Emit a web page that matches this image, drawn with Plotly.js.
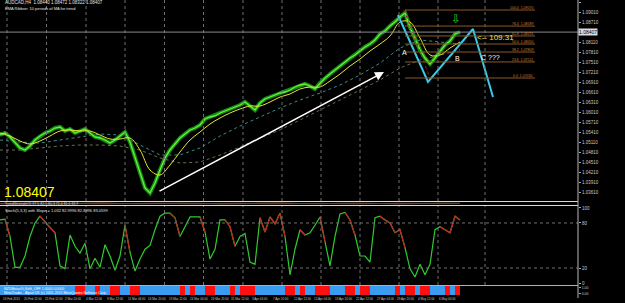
<!DOCTYPE html>
<html><head><meta charset="utf-8">
<script src="https://cdn.plot.ly/plotly-3.0.1.min.js"></script>
<style>html,body{margin:0;padding:0;background:#000;}#c{width:625px;height:303px;}</style>
</head><body><div id="c"></div>
<script>
// ---- data (sample index i = one step of the time axis) ----
const price = [1.0532,1.0538,1.0526,1.0511,1.0493,1.0487,1.0499,1.0517,1.0529,1.0538,1.0544,1.0553,1.0556,1.0544,1.0550,1.0538,1.0544,1.0550,1.0538,1.0526,1.0523,1.0517,1.0508,1.0517,1.0529,1.0541,1.0511,1.0466,1.0415,1.0373,1.0358,1.0388,1.0427,1.0463,1.0487,1.0505,1.0523,1.0535,1.0547,1.0553,1.0562,1.0580,1.0586,1.0589,1.0598,1.0604,1.0610,1.0616,1.0622,1.0631,1.0619,1.0607,1.0628,1.0640,1.0646,1.0652,1.0658,1.0661,1.0667,1.0676,1.0682,1.0685,1.0679,1.0670,1.0688,1.0703,1.0715,1.0727,1.0739,1.0751,1.0763,1.0772,1.0784,1.0796,1.0805,1.0817,1.0835,1.0844,1.0859,1.0871,1.0886,1.0898,1.0856,1.0823,1.0787,1.0763,1.0745,1.0763,1.0784,1.0802,1.0814,1.0835,1.0841];
const maFast = [1.0538,1.0529,1.0514,1.0505,1.0514,1.0529,1.0544,1.0547,1.0544,1.0544,1.0532,1.0520,1.0520,1.0523,1.0487,1.0427,1.0412,1.0442,1.0481,1.0517,1.0541,1.0565,1.0583,1.0598,1.0610,1.0619,1.0619,1.0631,1.0646,1.0655,1.0670,1.0676,1.0676,1.0694,1.0715,1.0739,1.0760,1.0784,1.0805,1.0829,1.0871,1.0871,1.0823,1.0772,1.0772,1.0793,1.0811];
const maMid = [1.0517,1.0511,1.0508,1.0517,1.0526,1.0535,1.0532,1.0502,1.0472,1.0472,1.0493,1.0529,1.0559,1.0586,1.0613,1.0637,1.0658,1.0682,1.0712,1.0748,1.0793,1.0817,1.0811,1.0805];
const maSlow = [1.0487,1.0487,1.0493,1.0499,1.0502,1.0502,1.0499,1.0487,1.0463,1.0448,1.0451,1.0472,1.0496,1.0523,1.0547,1.0577,1.0607,1.0637,1.0667,1.0697,1.0733,1.0757,1.0772,1.0787];
const stoch = [84,85,62,21,21,36,62,80,89,81,74,67,23,19,64,49,40,53,19,33,21,51,36,17,36,77,41,16,32,45,50,71,89,93,93,87,62,75,88,88,88,68,32,45,84,84,75,49,62,66,28,25,87,68,88,79,93,62,11,45,71,64,67,77,88,55,23,62,92,94,84,64,36,36,28,87,89,84,80,67,71,47,19,8,25,11,25,71,75,71,67,89,84];
const strengthA = [0.5,0.6,0.45,0.4,0.55,0.65,0.5,0.45,0.5,0.6,0.55,0.4,0.45,0.6,0.65,0.5,0.45,0.55,0.6,0.5,0.4,0.5,0.6,0.55];
const strengthB = [0.45,0.4,0.55,0.6,0.5,0.4,0.45,0.55,0.6,0.45,0.4,0.55,0.6,0.45,0.4,0.5,0.55,0.45,0.4,0.5,0.6,0.55,0.45,0.5];
const trendState = "BBBBBBBBBBBBBBBRRBBRBBRRBBRRBBBBBBBBRBRBBRRBBBRBRRRBBBBBBRRBRBBRRRBBBRRBRRBBBBBRBRRBRRBBBRBR".split('');
const lastPrice = 1.08407;
const xLabels = ["16 Feb 2015","20 Feb 12:00","25 Feb 12:00","2 Mar 20:00","4 Mar 12:00","9 Mar 12:00","11 Mar 04:00","16 Mar 20:00","19 Mar 12:00","24 Mar 04:00","26 Mar 20:00","31 Mar 12:00","3 Apr 04:00","7 Apr 20:00","12 Apr 12:00","15 Apr 04:00","19 Apr 20:00","22 Apr 12:00","27 Apr 04:00","29 Apr 20:00","4 May 12:00","6 May 04:00"];
const priceTicks = [1.0361,1.0391,1.0421,1.0451,1.0481,1.0511,1.0541,1.0571,1.0601,1.0631,1.0661,1.0691,1.0721,1.0751,1.0781,1.0811,1.0841,1.0871,1.0901,1.0931];
const stochTicks = [0,20,80,100];
const oscLevels = [20,80];
const gridX = [1.4,9.3,17.2,25,32.9,40.7,48.6,56.4,64.2,72,79.8,87.6,97];
// user drawings on the chart
const waveX = [79.6,85.6,94.6,98.6];
const waveY = [1.0892,1.0691,1.0850,1.0646];
const trendX = [31.6,76.8];
const trendY = [1.0361,1.0721];
const fibLevels = [100,76.4,61.8,50,38.2,23.6,0];
const fibHigh = 1.0907, fibLow = 1.0703;
const fibX = [81,107];

const idx = price.map((_,i)=>i);
const idx2 = maFast.map((_,i)=>i*2);
const idx4 = maMid.map((_,i)=>i*4);
const red = stoch.map(()=>null);
for(let i=1;i<stoch.length;i++){ if(stoch[i]<stoch[i-1] && stoch[i-1]>=70){ red[i-1]=stoch[i-1]; red[i]=stoch[i]; } }

const traces = [
 {x:idx4,y:maSlow,type:'scatter',mode:'lines',line:{color:'#6e6e50',width:1,dash:'dot'},yaxis:'y'},
 {x:idx4,y:maMid,type:'scatter',mode:'lines',line:{color:'#3c8c8c',width:1,dash:'dot'},yaxis:'y'},
 {x:idx,y:price,type:'scatter',mode:'lines',line:{color:'#168a16',width:4},yaxis:'y'},
 {x:idx,y:price,type:'scatter',mode:'lines',line:{color:'#66f23a',width:1.3},yaxis:'y'},
 {x:idx2,y:maFast,type:'scatter',mode:'lines',line:{color:'#e8e830',width:1,shape:'spline'},yaxis:'y'},
 {x:waveX,y:waveY,type:'scatter',mode:'lines',line:{color:'#3cc8e8',width:2},yaxis:'y'},
 {x:idx4,y:strengthA,type:'scatter',mode:'lines',line:{color:'#8c6a2a',width:1,shape:'spline'},yaxis:'y2'},
 {x:idx4,y:strengthB,type:'scatter',mode:'lines',line:{color:'#8c2a2a',width:1,shape:'spline'},yaxis:'y2'},
 {x:idx,y:stoch,type:'scatter',mode:'lines',line:{color:'#2ecc2e',width:1.2},yaxis:'y3'},
 {x:idx,y:red,type:'scatter',mode:'lines',line:{color:'#c82020',width:1.2},connectgaps:false,yaxis:'y3'},
 {x:trendState.map((_,i)=>i+0.5),y:trendState.map(()=>1),type:'bar',width:1,
  marker:{color:trendState.map(s=>s==='R'?'#ff1010':'#3a9cf0'),line:{width:0}},yaxis:'y4'}
];

const H = 295;
const P = px => 1 - px/H;
const shapes = [];
gridX.forEach(g=>{
  shapes.push({type:'line',xref:'x',yref:'paper',x0:g,x1:g,y0:P(201),y1:1,line:{color:'#707070',width:1,dash:'dot'}});
  shapes.push({type:'line',xref:'x',yref:'paper',x0:g,x1:g,y0:P(285),y1:P(206),line:{color:'#707070',width:1,dash:'dot'}});
});
oscLevels.forEach(l=>shapes.push({type:'line',xref:'paper',yref:'y3',x0:0,x1:1,y0:l,y1:l,line:{color:'#707070',width:1,dash:'dot'}}));
[201.5,205.5].forEach(p=>shapes.push({type:'line',xref:'paper',yref:'paper',x0:0,x1:1,y0:P(p),y1:P(p),line:{color:'#d8d8d8',width:1}}));
shapes.push({type:'line',xref:'paper',yref:'paper',x0:0,x1:1,y0:P(285.5),y1:P(285.5),line:{color:'#b0b0b0',width:1}});
shapes.push({type:'line',xref:'paper',yref:'y',x0:0,x1:1,y0:lastPrice,y1:lastPrice,line:{color:'#8a8a8a',width:1}});
shapes.push({type:'line',xref:'paper',yref:'paper',x0:1,x1:1,y0:P(298),y1:1,line:{color:'#b8b8b8',width:1}});
fibLevels.forEach(l=>{
  const v = fibLow+(fibHigh-fibLow)*l/100;
  shapes.push({type:'line',xref:'x',yref:'y',x0:fibX[0],x1:fibX[1],y0:v,y1:v,line:{color:'#8a5a2a',width:1}});
});
shapes.push({type:'line',xref:'x',yref:'y',x0:80.8,x1:86,y0:fibHigh,y1:fibLow,line:{color:'#a02020',width:1,dash:'dot'}});

const annotations = [
 {xref:'x',yref:'y',axref:'x',ayref:'y',x:trendX[1],y:trendY[1],ax:trendX[0],ay:trendY[0],showarrow:true,arrowhead:2,arrowsize:1.2,arrowwidth:1.5,arrowcolor:'#ffffff',text:''},
 {xref:'x',yref:'y',x:80.8,y:1.0781,text:'A',showarrow:false,font:{color:'#ffffff',size:7}},
 {xref:'x',yref:'y',x:91.4,y:1.0763,text:'B',showarrow:false,font:{color:'#ffffff',size:7}},
 {xref:'x',yref:'y',x:98,y:1.0766,text:'C ???',showarrow:false,font:{color:'#ffffff',size:7}},
 {xref:'x',yref:'y',x:95,y:1.0826,xanchor:'left',text:'&lt;-- 109.31',showarrow:false,font:{color:'#e6e64c',size:8}},
 {xref:'x',yref:'y',x:91.2,y:1.0880,text:'⇩',showarrow:false,font:{color:'#22cc22',size:12,family:'DejaVu Sans'}},
 {xref:'paper',yref:'paper',x:0.004,y:P(192),xanchor:'left',yanchor:'middle',text:lastPrice.toFixed(5),showarrow:false,font:{color:'#ffff00',size:14}},
 {xref:'paper',yref:'paper',x:0.006,y:P(3),xanchor:'left',yanchor:'middle',text:'AUDCAD,H4  1.08440 1.08472 1.08322 1.08407',showarrow:false,font:{color:'#e0e0e0',size:4.5}},
 {xref:'paper',yref:'paper',x:0.006,y:P(8),xanchor:'left',yanchor:'middle',text:'EMA Ribbon: 10 periods of MA for trend',showarrow:false,font:{color:'#e0e0e0',size:4}},
 {xref:'paper',yref:'paper',x:0.006,y:P(203.5),xanchor:'left',yanchor:'middle',text:'TrendStrength(5) 87.5 82.5 80.3 72.4 81.6 83.9',showarrow:false,font:{color:'#d0d0d0',size:3.5}},
 {xref:'paper',yref:'paper',x:0.006,y:P(210),xanchor:'left',yanchor:'middle',text:'Stoch(5,3,3) with Slope = 1.032 82.9996 82.8996 83.0599',showarrow:false,font:{color:'#e0e0e0',size:4}},
 {xref:'paper',yref:'paper',x:0.004,y:P(288.5),xanchor:'left',yanchor:'middle',text:'NZDMetas%,Shift_OFF 1.0000 0.0000',showarrow:false,font:{color:'#ffffff',size:3.5}},
 {xref:'paper',yref:'paper',x:0.004,y:P(292.5),xanchor:'left',yanchor:'middle',text:'MetaTrader - Alpari UK (c) 2001-2015 MetaQuotes Software Corp.',showarrow:false,font:{color:'#ffffff',size:3.5}},
 {xref:'paper',yref:'y',x:1,y:lastPrice,xanchor:'left',yanchor:'middle',text:lastPrice.toFixed(5),showarrow:false,bgcolor:'#dcdcdc',borderpad:0,font:{color:'#000000',size:5}}
];
fibLevels.forEach(l=>{
  const v = fibLow+(fibHigh-fibLow)*l/100;
  annotations.push({xref:'x',yref:'y',x:fibX[1],y:v,xanchor:'right',yanchor:'middle',yshift:2,text:l.toFixed(1)+'  '+v.toFixed(5),showarrow:false,font:{color:'#c8823c',size:3.5}});
});
xLabels.forEach((t,k)=>annotations.push({xref:'x',yref:'paper',x:0.4+k*4.15,y:P(299),xanchor:'left',yanchor:'middle',text:t,showarrow:false,borderpad:0,font:{color:'#c8c8c8',size:3}}));

const shownTicks = priceTicks.filter(t=>Math.abs(t-lastPrice)>0.001);
const axBase = {side:'right',anchor:'x',showgrid:false,zeroline:false,showline:false,ticks:'outside',ticklen:2,tickcolor:'#aaaaaa',tickfont:{size:4.5,color:'#c8c8c8'}};
const layout = {
 width:625,height:303,paper_bgcolor:'#000000',plot_bgcolor:'#000000',
 margin:{l:0,r:47,t:0,b:8},showlegend:false,hovermode:false,bargap:0,
 font:{family:'Liberation Sans, Arial, sans-serif',color:'#c8c8c8',size:5},
 xaxis:{domain:[0,1],range:[0,115.6],anchor:'y4',showticklabels:false,ticks:'',showgrid:false,zeroline:false,showline:false},
 yaxis:Object.assign({},axBase,{domain:[P(201),1],range:[1.0334,1.0937],tickvals:shownTicks,tickformat:'.5f'}),
 yaxis2:Object.assign({},axBase,{domain:[P(205),P(202)],range:[0,1],tickvals:[],showticklabels:false}),
 yaxis3:Object.assign({},axBase,{domain:[P(285),P(206)],range:[-2.6,102.6],tickvals:stochTicks}),
 yaxis4:Object.assign({},axBase,{domain:[0,P(286)],range:[0,1],tickvals:[0.15,0.85],ticktext:['0.00','1.00'],tickfont:{size:3.5,color:'#c8c8c8'}}),
 shapes:shapes,annotations:annotations
};
Plotly.newPlot('c',traces,layout,{staticPlot:true,displayModeBar:false});
</script></body></html>
